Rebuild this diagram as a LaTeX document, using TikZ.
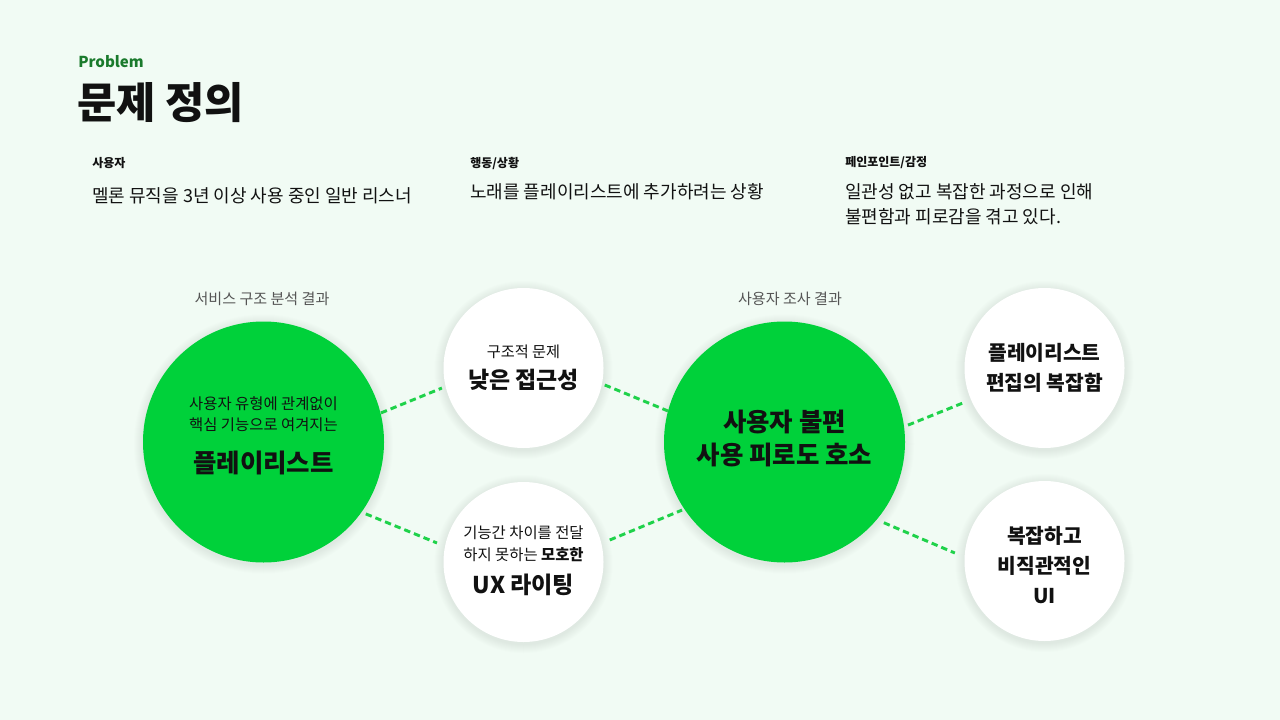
\documentclass[tikz,border=0pt]{standalone}
\usepackage{fontspec}
\setmainfont{Noto Sans CJK KR}
\usetikzlibrary{calc,backgrounds}
\definecolor{bg}{HTML}{F1FBF4}
\definecolor{melon}{HTML}{00D13A}
\definecolor{dgreen}{HTML}{1A7A2C}
\definecolor{dashgreen}{HTML}{1FD24A}
\definecolor{txt}{HTML}{111111}
\definecolor{graytxt}{HTML}{555555}
\definecolor{shadowc}{HTML}{7FA886}
\newcommand{\fs}[2]{\fontsize{#1}{#2}\selectfont}
\begin{document}
\begin{tikzpicture}[x=0.75pt,y=-0.75pt,
  bigc/.style={circle,fill=melon,minimum size=180.75pt,inner sep=0pt},
  smallc/.style={circle,fill=white,minimum size=120pt,inner sep=0pt},
  link/.style={draw=dashgreen,line width=2.2pt,dash pattern=on 4.8pt off 3pt},
  lbl/.style={inner sep=0pt,text=txt},
  ctr/.style={lbl,anchor=center,align=center},
]
\begin{scope}[on background layer]
\fill[bg] (0,0) rectangle (1280,720);
\end{scope}
\useasboundingbox (0,0) rectangle (1280,720);

% header
\node[lbl,anchor=west,text=dgreen,font=\bfseries\fs{11.3}{14}] (prob) at (78,61.5) {Problem};
\node[lbl,anchor=west,font=\bfseries\fs{32}{36}] (title) at (77,103) {문제 정의};

\node[lbl,anchor=west,font=\bfseries\fs{9}{11}] (h1) at (92,163) {사용자};
\node[lbl,anchor=west,font=\fs{13.5}{16}] (t1) at (92,195.5) {멜론 뮤직을 3년 이상 사용 중인 일반 리스너};
\node[lbl,anchor=west,font=\bfseries\fs{9}{11}] (h2) at (470,163) {행동/상황};
\node[lbl,anchor=west,font=\fs{13.5}{16}] (t2) at (470,191.5) {노래를 플레이리스트에 추가하려는 상황};
\node[lbl,anchor=west,font=\bfseries\fs{9}{11}] (h3) at (845,163) {페인포인트/감정};
\node[lbl,anchor=west,align=left,font=\fs{13.5}{18.75}] (t3) at (845,204) {일관성 없고 복잡한 과정으로 인해\\불편함과 피로감을 겪고 있다.};

% group captions
\node[ctr,text=graytxt,font=\fs{11.3}{13}] (cap1) at (262,298.5) {서비스 구조 분석 결과};
\node[ctr,text=graytxt,font=\fs{11.3}{13}] (cap2) at (790,298.5) {사용자 조사 결과};

% circles
\node[bigc] (g1) at (263.5,442) {};
\node[smallc] (w1) at (523.5,368) {};
\node[smallc] (w2) at (523.5,562) {};
\node[bigc] (g2) at (784.5,442) {};
\node[smallc] (w3) at (1044.5,368) {};
\node[smallc] (w4) at (1044.5,561) {};

% soft shadows
\begin{scope}[on background layer]
\foreach \n/\r in {g1/120.5,g2/120.5,w1/80,w2/80,w3/80,w4/80}{
  \foreach \k in {1,...,9}{
    \fill[shadowc,opacity=0.016] ($(\n.center)+(0pt,-1.5pt)$) circle[radius={(\r+\k)*0.75pt}];
  }
}
\end{scope}

% connectors
\draw[link] ($(g1.center)+(13.9:90.75pt)$) -- ($(w1.center)+(193.8:63pt)$);
\draw[link] ($(g1.center)+(-35.1:93.75pt)$) -- ($(w2.center)+(167.6:66.45pt)$);
\draw[link] ($(w1.center)+(-11.8:62.25pt)$) -- ($(g2.center)+(165.1:90.4pt)$);
\draw[link] ($(w2.center)+(14.3:66.75pt)$) -- ($(g2.center)+(213.6:92.25pt)$);
\draw[link] ($(g2.center)+(7.8:93.5pt)$) -- ($(w3.center)+(203.2:66.5pt)$);
\draw[link] ($(g2.center)+(-39.1:96pt)$) -- ($(w4.center)+(174.9:67.5pt)$);

% circle texts
\node[ctr,font=\fs{11.55}{15.75}] (g1a) at (263.5,414.5) {사용자 유형에 관계없이\\핵심 기능으로 여겨지는};
\node[ctr,font=\bfseries\fs{19.1}{22}] (g1b) at (263.5,462.5) {플레이리스트};

\node[ctr,font=\fs{11.4}{13}] (w1a) at (523.5,352) {구조적 문제};
\node[ctr,font=\bfseries\fs{17.2}{20}] (w1b) at (523.5,380) {낮은 접근성};

\node[ctr,font=\fs{11.55}{16.5}] (w2a) at (523.5,544) {기능간 차이를 전달\\하지 못하는 \textbf{모호한}};
\node[ctr,font=\bfseries\fs{17.3}{20}] (w2b) at (523.5,585) {UX 라이팅};

\node[ctr,font=\bfseries\fs{19.1}{24.75}] (g2a) at (784.5,438.5) {사용자 불편\\사용 피로도 호소};

\node[ctr,font=\bfseries\fs{15.25}{22.5}] (w3a) at (1044.5,368) {플레이리스트\\편집의 복잡함};
\node[ctr,font=\bfseries\fs{15.25}{22.5}] (w4a) at (1044.5,565) {복잡하고\\비직관적인\\UI};
\end{tikzpicture}
\end{document}
